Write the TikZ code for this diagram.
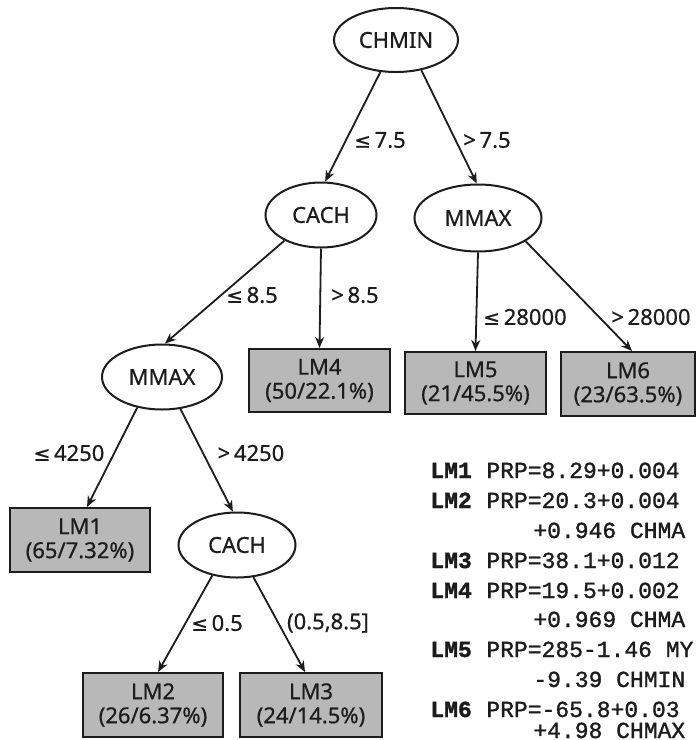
\documentclass[tikz,border=0pt]{standalone}
\usepackage{fontspec}
\setmainfont[FakeBold=0.6]{Noto Sans}
\newfontfamily\monofont[FakeBold=1.2]{Liberation Mono}
\newfontfamily\monobold[FakeBold=1.5]{Liberation Mono Bold}
\newfontfamily\symfont[FakeBold=0.6]{DejaVu Sans}
\newcommand{\myle}{{\symfont\fontsize{10}{12}\selectfont ≤}}
\usetikzlibrary{shapes.geometric,arrows.meta,calc}
\definecolor{leafgray}{RGB}{184,184,184}
\definecolor{ink}{RGB}{28,28,28}
\begin{document}
\begin{tikzpicture}[x=0.5pt,y=-0.5pt,
  every node/.style={text=ink},
  split/.style={ellipse,draw=ink,line width=1pt,inner sep=0pt,fill=white,font=\fontsize{11}{13}\selectfont},
  leaf/.style={rectangle,draw=ink,line width=1pt,fill=leafgray,inner sep=0pt,align=center,font=\fontsize{11}{12}\selectfont},
  edge/.style={draw=ink,line width=0.9pt,-{Stealth[length=5.5pt,width=4.5pt]}},
  lbl/.style={font=\fontsize{11}{13}\selectfont,inner sep=0pt},
  eq/.style={font=\monofont\fontsize{11.5}{13}\selectfont,anchor=base west,inner sep=0pt},
  eqb/.style={font=\monobold\fontsize{11.5}{13}\selectfont,anchor=base west,inner sep=0pt}]
\useasboundingbox[fill=white] (0,0) rectangle (696,740);

% split nodes
\node[split,minimum width=62pt,minimum height=32pt] (chmin) at (396,40) {CHMIN};
\node[split,minimum width=55.5pt,minimum height=32.5pt] (cach1) at (321,215) {CACH};
\node[split,minimum width=63.5pt,minimum height=33.5pt] (mmaxR) at (478,218) {MMAX};
\node[split,minimum width=60pt,minimum height=32.5pt] (mmaxL) at (162,377) {MMAX};
\node[split,minimum width=58.5pt,minimum height=32.5pt] (cach2) at (237,545) {CACH};

% leaves
\node[leaf,minimum width=70.5pt,minimum height=31.5pt] (lm4) at (319.5,380.5) {LM4\\(50/22.1\%)};
\node[leaf,minimum width=70.5pt,minimum height=31pt] (lm5) at (475.5,383) {LM5\\(21/45.5\%)};
\node[leaf,minimum width=67pt,minimum height=32pt] (lm6) at (628,384) {LM6\\(23/63.5\%)};
\node[leaf,minimum width=70pt,minimum height=32pt] (lm1) at (80,540) {LM1\\(65/7.32\%)};
\node[leaf,minimum width=70pt,minimum height=32pt] (lm2) at (153,705) {LM2\\(26/6.37\%)};
\node[leaf,minimum width=71pt,minimum height=32pt] (lm3) at (311,705) {LM3\\(24/14.5\%)};

% connectors
\draw[edge] (chmin.244) -- (cach1.83);
\draw[edge] (chmin.310) -- (mmaxR.92);
\draw[edge] (cach1.215) -- (mmaxL.85);
\draw[edge] (cach1.south) -- (lm4.north);
\draw[edge] (mmaxR.south) -- (lm5.north);
\draw[edge] (mmaxR.334) -- ($(lm6.north)+(4,0)$);
\draw[edge] (mmaxL.231) -- ($(lm1.north)+(7,0)$);
\draw[edge] (mmaxL.300) -- (cach2.97);
\draw[edge] (cach2.231) -- ($(lm2.north)+(5,0)$);
\draw[edge] (cach2.297) -- ($(lm3.north)+(-6,0)$);

% connector labels
\node[lbl] (l1) at (380,140) {\myle\,7.5};
\node[lbl] (l2) at (487,140) {>\,7.5};
\node[lbl] (l3) at (252,295) {\myle\,8.5};
\node[lbl] (l4) at (355,295) {>\,8.5};
\node[lbl] (l5) at (525,317) {\myle\,28000};
\node[lbl] (l6) at (651,317) {>\,28000};
\node[lbl] (l7) at (69,453) {\myle\,4250};
\node[lbl] (l8) at (251,453) {>\,4250};
\node[lbl] (l9) at (217,623) {\myle\,0.5};
\node[lbl] (l10) at (328,623) {(0.5,8.5]};

% model equations
\node[eqb] (e1a) at (430,478) {LM1};
\node[eq]  (e1b) at (486,478) {PRP=8.29+0.004};
\node[eqb] (e2a) at (430,508) {LM2};
\node[eq]  (e2b) at (486,508) {PRP=20.3+0.004};
\node[eq]  (e2c) at (533,538) {+0.946 CHMA};
\node[eqb] (e3a) at (430,568) {LM3};
\node[eq]  (e3b) at (486,568) {PRP=38.1+0.012};
\node[eqb] (e4a) at (430,598) {LM4};
\node[eq]  (e4b) at (486,598) {PRP=19.5+0.002};
\node[eq]  (e4c) at (533,627) {+0.969 CHMA};
\node[eqb] (e5a) at (430,657) {LM5};
\node[eq]  (e5b) at (486,657) {PRP=285-1.46 MY};
\node[eq]  (e5c) at (533,687) {-9.39 CHMIN};
\node[eqb] (e6a) at (430,717) {LM6};
\node[eq]  (e6b) at (486,717) {PRP=-65.8+0.03};
\node[eq]  (e6c) at (533,738) {+4.98 CHMAX};
\end{tikzpicture}
\end{document}
